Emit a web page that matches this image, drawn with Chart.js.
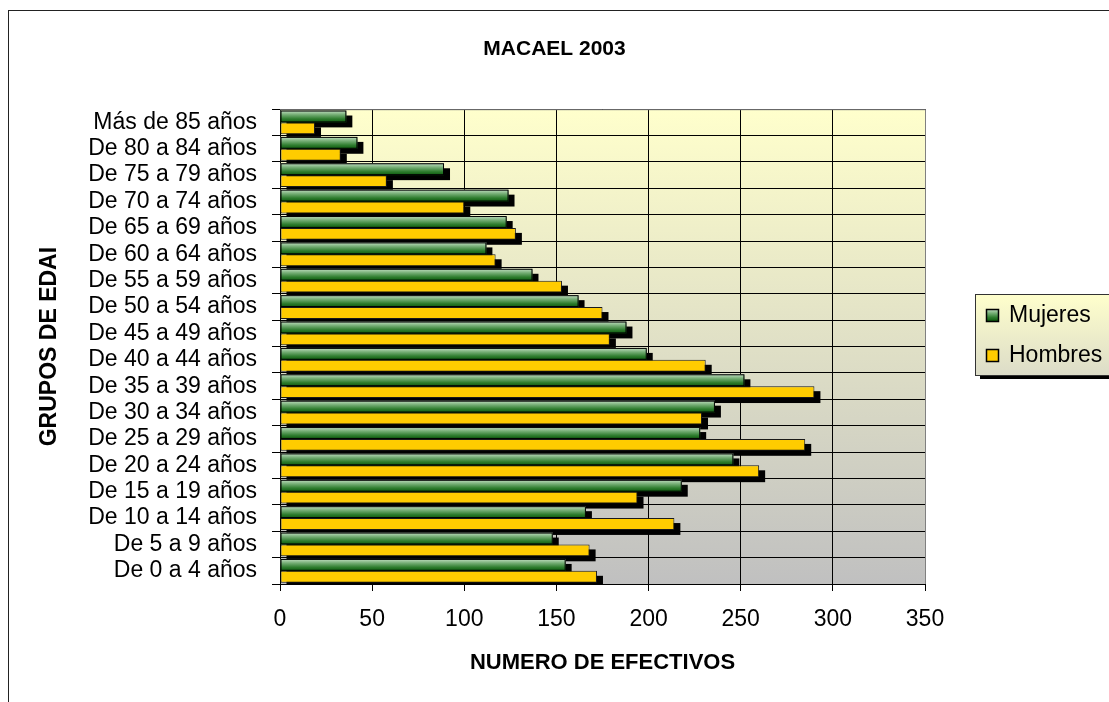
<!DOCTYPE html>
<html>
<head>
<meta charset="utf-8">
<title>Macael 2003</title>
<script src="https://cdn.jsdelivr.net/npm/chart.js"></script>
<style>
  html, body { margin: 0; padding: 0; background: #fff; }
  canvas { display: block; }
</style>
</head>
<body>
<canvas id="piramide" width="1109" height="702"></canvas>
<script>
// grupos de edad, de abajo hacia arriba
const grupos = [
  'De 0 a 4 años', 'De 5 a 9 años', 'De 10 a 14 años', 'De 15 a 19 años',
  'De 20 a 24 años', 'De 25 a 29 años', 'De 30 a 34 años', 'De 35 a 39 años',
  'De 40 a 44 años', 'De 45 a 49 años', 'De 50 a 54 años', 'De 55 a 59 años',
  'De 60 a 64 años', 'De 65 a 69 años', 'De 70 a 74 años', 'De 75 a 79 años',
  'De 80 a 84 años', 'Más de 85 años'
];
const mujeres = [155, 148, 166, 218, 246, 228, 236, 252, 199, 188, 162, 137, 112, 123, 124, 89, 42, 36];
const hombres = [172, 168, 214, 194, 260, 285, 229, 290, 231, 179, 175, 153, 117, 128, 100, 58, 33, 19];
const ejeMin = 0;
const ejeMax = 350;
const ejePaso = 50;

const FUENTE = '"Liberation Sans", Arial, sans-serif';
Chart.defaults.font.family = FUENTE;
Chart.defaults.color = '#000';

function degradadoVerde(ctx, top, h) {
  const g = ctx.createLinearGradient(0, top, 0, top + h);
  g.addColorStop(0, '#c4e0c4');
  g.addColorStop(0.35, '#74ad74');
  g.addColorStop(0.7, '#2f7d2f');
  g.addColorStop(1, '#0c5a0c');
  return g;
}

// fondo del area de trazado, marco exterior y titulo centrado en todo el ancho
const fondo = {
  id: 'fondo',
  afterLayout(chart) {
    const t = chart.titleBlock;
    if (t) {
      t.left = 0;
      t.right = chart.width;
      t.width = chart.width;
    }
  },
  beforeDraw(chart) {
    const { ctx, chartArea: a } = chart;
    ctx.save();
    ctx.strokeStyle = '#222';
    ctx.lineWidth = 1;
    ctx.strokeRect(8.5, 10.5, 1300, 900);
    const g = ctx.createLinearGradient(0, a.top, 0, a.bottom);
    g.addColorStop(0, '#ffffcc');
    g.addColorStop(1, '#c0c0c0');
    ctx.fillStyle = g;
    ctx.fillRect(a.left, a.top, a.right - a.left, a.bottom - a.top);
    ctx.restore();
  }
};

// sombras negras y barras verdes con degradado
const barras = {
  id: 'barras',
  beforeDatasetsDraw(chart) {
    const { ctx, chartArea: a } = chart;
    ctx.save();
    ctx.strokeStyle = '#808080';
    ctx.lineWidth = 1;
    ctx.beginPath();
    ctx.moveTo(a.left, a.top + 0.5);
    ctx.lineTo(a.right + 0.5, a.top + 0.5);
    ctx.lineTo(a.right + 0.5, a.bottom);
    ctx.stroke();
    ctx.beginPath();
    ctx.rect(a.left, a.top, a.right - a.left, a.bottom - a.top);
    ctx.clip();
    ctx.fillStyle = '#000';
    chart.data.datasets.forEach((ds, i) => {
      chart.getDatasetMeta(i).data.forEach(bar => {
        const p = bar.getProps(['x', 'y', 'base', 'height'], true);
        ctx.fillRect(p.base + 6, p.y - p.height / 2 + 5, p.x - p.base, p.height);
      });
    });
    ctx.restore();
  },
  afterDatasetDraw(chart, args) {
    if (args.index !== 0) return;
    const ctx = chart.ctx;
    ctx.save();
    args.meta.data.forEach(bar => {
      const p = bar.getProps(['x', 'y', 'base', 'height'], true);
      const top = p.y - p.height / 2;
      ctx.fillStyle = degradadoVerde(ctx, top, p.height);
      ctx.fillRect(p.base, top, p.x - p.base, p.height);
      ctx.strokeStyle = '#000';
      ctx.lineWidth = 1;
      ctx.strokeRect(p.base + 0.5, top + 0.5, p.x - p.base - 1, p.height - 1);
    });
    ctx.restore();
  }
};

// leyenda con caja, degradado y sombra
const leyenda = {
  id: 'leyenda',
  afterDraw(chart) {
    const { ctx, chartArea: a } = chart;
    const x = a.right + 50, y = 294, w = 150, h = 81;
    ctx.save();
    ctx.fillStyle = '#000';
    ctx.fillRect(x + 5, y + 4, w, h);
    const g = ctx.createLinearGradient(0, y, 0, y + h);
    g.addColorStop(0, '#ffffcc');
    g.addColorStop(1, '#dcdcc8');
    ctx.fillStyle = g;
    ctx.fillRect(x, y, w, h);
    ctx.strokeStyle = '#333';
    ctx.strokeRect(x + 0.5, y + 0.5, w, h);
    ctx.font = '23px ' + FUENTE;
    ctx.textBaseline = 'middle';
    chart.data.datasets.forEach((ds, i) => {
      const cy = y + 21 + i * 40;
      const bx = x + 11, by = cy - 6;
      ctx.fillStyle = i === 0 ? degradadoVerde(ctx, by, 12) : ds.backgroundColor;
      ctx.fillRect(bx, by, 12, 12);
      ctx.strokeStyle = '#000';
      ctx.lineWidth = 1.5;
      ctx.strokeRect(bx + 0.5, by + 0.5, 12, 12);
      ctx.fillStyle = '#000';
      ctx.fillText(ds.label, x + 34, cy + 1);
    });
    ctx.restore();
  }
};

new Chart(document.getElementById('piramide'), {
  type: 'bar',
  data: {
    labels: grupos,
    datasets: [
      {
        label: 'Mujeres',
        data: mujeres,
        backgroundColor: '#3d8a3d',
        borderColor: '#000',
        borderWidth: 1,
        borderSkipped: false
      },
      {
        label: 'Hombres',
        data: hombres,
        backgroundColor: '#ffcc00',
        borderColor: '#1a1a1a',
        borderWidth: 1,
        borderSkipped: false
      }
    ]
  },
  options: {
    indexAxis: 'y',
    responsive: false,
    animation: false,
    devicePixelRatio: 1,
    categoryPercentage: 0.9,
    barPercentage: 1,
    layout: { padding: { left: 0, right: 184, top: 0, bottom: 0 } },
    plugins: {
      legend: { display: false },
      tooltip: { enabled: false },
      title: {
        display: true,
        text: 'MACAEL 2003',
        font: { size: 21, weight: 'bold' },
        padding: { top: 37, bottom: 47 }
      }
    },
    scales: {
      x: {
        min: ejeMin,
        max: ejeMax,
        ticks: { stepSize: ejePaso, font: { size: 23 }, padding: 15 },
        grid: { color: '#000', lineWidth: 1, tickLength: 7 },
        border: { color: '#000' },
        title: {
          display: true,
          text: 'NUMERO DE EFECTIVOS',
          font: { size: 22, weight: 'bold' },
          padding: { top: 0, bottom: 26 }
        },
        afterFit(scale) { scale.height = 118; }
      },
      y: {
        reverse: true,
        ticks: { font: { size: 23 }, padding: 15, autoSkip: false },
        grid: { color: '#000', lineWidth: 1, tickLength: 8, offset: true },
        border: { color: '#000' },
        title: {
          display: true,
          text: 'GRUPOS DE EDAI',
          font: { size: 23, weight: 'bold' },
          padding: { top: 36, bottom: 0 }
        },
        afterFit(scale) { scale.width = 280; }
      }
    }
  },
  plugins: [fondo, barras, leyenda]
});
</script>
</body>
</html>
